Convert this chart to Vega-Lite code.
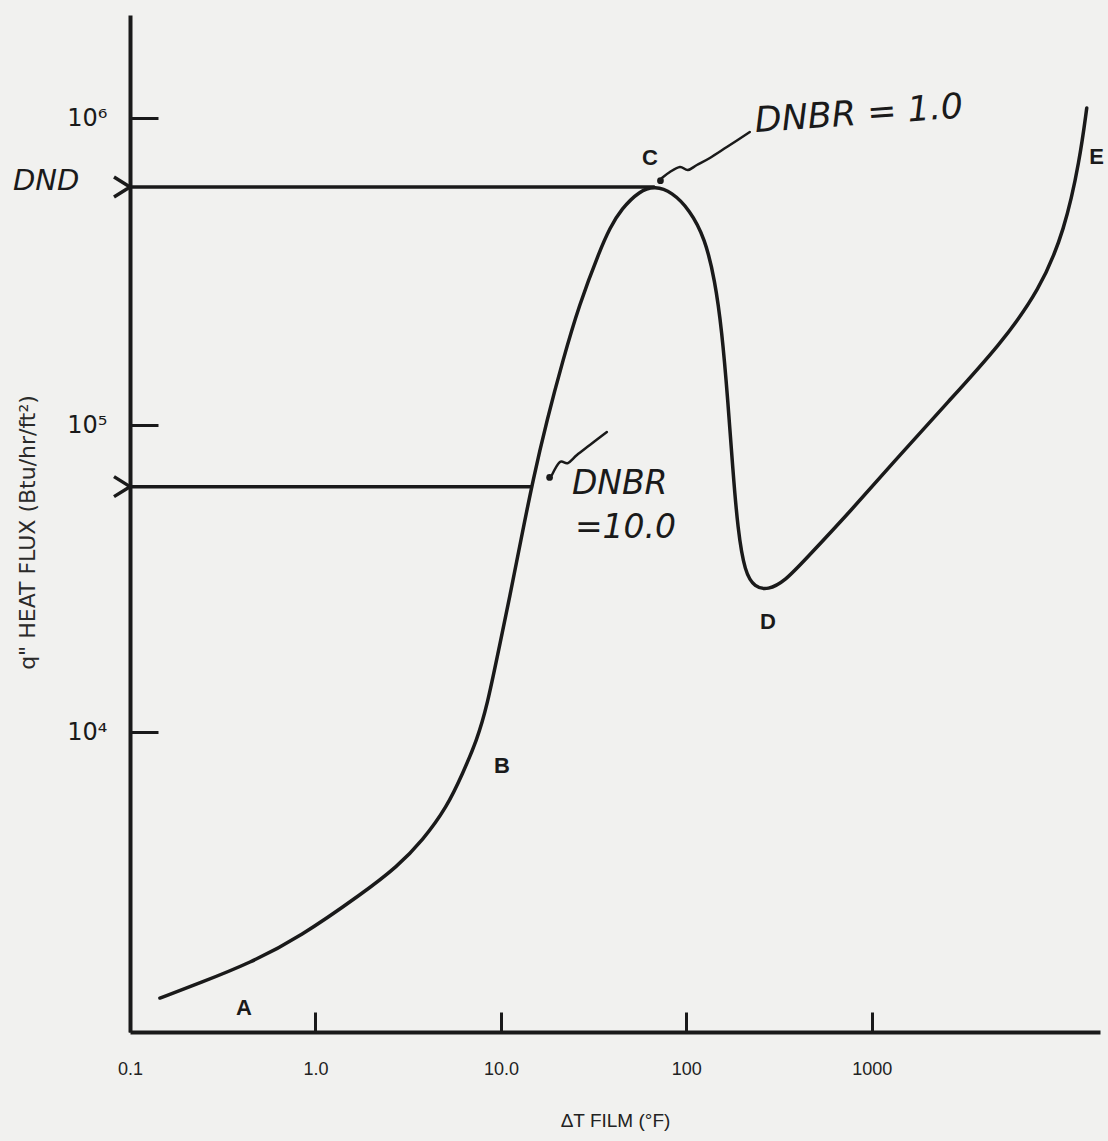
{
  "$schema": "https://vega.github.io/schema/vega-lite/v6.json",
  "width": 970,
  "height": 1017,
  "autosize": {"type": "none"},
  "padding": {"left": 130, "top": 15, "right": 8, "bottom": 109},
  "background": "#f1f1ef",
  "config": {"view": {"stroke": null}},
  "datasets": {
    "curve": [
      {"dt": 0.145, "q": 1360}, {"dt": 0.238, "q": 1522}, {"dt": 0.444, "q": 1768}, {"dt": 0.825, "q": 2150},
      {"dt": 1.803, "q": 2989}, {"dt": 2.751, "q": 3634}, {"dt": 3.798, "q": 4448}, {"dt": 5.115, "q": 5697},
      {"dt": 6.24, "q": 7354}, {"dt": 7.42, "q": 9417}, {"dt": 8.4, "q": 12060}, {"dt": 9.85, "q": 19210},
      {"dt": 11.15, "q": 27500}, {"dt": 12.82, "q": 42220},
      {"dt": 14.88, "q": 66200}, {"dt": 17.7, "q": 103800}, {"dt": 21.6, "q": 162800}, {"dt": 26.4, "q": 246000},
      {"dt": 34.2, "q": 371500}, {"dt": 38.7, "q": 438200}, {"dt": 44.5, "q": 505000}, {"dt": 56.1, "q": 580000},
      {"dt": 67.6, "q": 600000}, {"dt": 83.5, "q": 575000}, {"dt": 104.4, "q": 501600}, {"dt": 125.8, "q": 406600},
      {"dt": 142.5, "q": 296800}, {"dt": 155.3, "q": 203900}, {"dt": 167.4, "q": 120600}, {"dt": 178.1, "q": 71400},
      {"dt": 189.5, "q": 45500}, {"dt": 206.8, "q": 33000}, {"dt": 234, "q": 29600}, {"dt": 275, "q": 29000},
      {"dt": 339.6, "q": 31000}, {"dt": 435.4, "q": 36340}, {"dt": 760.9, "q": 52080}, {"dt": 1416, "q": 79860},
      {"dt": 2633, "q": 120600}, {"dt": 4898, "q": 182200}, {"dt": 8050, "q": 275300}, {"dt": 10975, "q": 431700},
      {"dt": 13220, "q": 729800}, {"dt": 14420, "q": 1078000}
    ],
    "refs": [
      {"name": "DND", "dt": 0.1, "dt2": 67.6, "q": 596000},
      {"name": "DNBR10", "dt": 0.1, "dt2": 14.9, "q": 63000}
    ],
    "arrows": [
      {"arrow": "C", "i": 1, "dt": 73.8, "q": 637800},
      {"arrow": "C", "i": 2, "dt": 81.5, "q": 667000},
      {"arrow": "C", "i": 3, "dt": 92.3, "q": 692500},
      {"arrow": "C", "i": 4, "dt": 101.9, "q": 677000},
      {"arrow": "C", "i": 5, "dt": 113.9, "q": 703000},
      {"arrow": "C", "i": 6, "dt": 133.9, "q": 741000},
      {"arrow": "C", "i": 7, "dt": 165.3, "q": 804500},
      {"arrow": "C", "i": 8, "dt": 219.8, "q": 900400},
      {"arrow": "B10", "i": 1, "dt": 18.84, "q": 68730},
      {"arrow": "B10", "i": 2, "dt": 20.8, "q": 75780},
      {"arrow": "B10", "i": 3, "dt": 22.97, "q": 75200},
      {"arrow": "B10", "i": 4, "dt": 25.7, "q": 79860},
      {"arrow": "B10", "i": 5, "dt": 30.18, "q": 86050},
      {"arrow": "B10", "i": 6, "dt": 37.27, "q": 94900}
    ],
    "tips": [
      {"dt": 72.5, "q": 625000},
      {"dt": 18.3, "q": 67500}
    ],
    "chevrons": [
      {"dt": 0.1, "q": 596000},
      {"dt": 0.1, "q": 63000}
    ],
    "dnd": [
      {"dt": 0.0234, "q": 623600, "text": "DND"}
    ],
    "dnbr1": [
      {"dt": 234, "q": 977500, "text": "DNBR = 1.0"}
    ],
    "dnbr10": [
      {"dt": 24.14, "q": 64250, "text": "DNBR"},
      {"dt": 25.06, "q": 46180, "text": "=10.0"}
    ],
    "points": [
      {"dt": 0.412, "q": 1262, "text": "A"},
      {"dt": 10.13, "q": 7750, "text": "B"},
      {"dt": 63.6, "q": 741000, "text": "C"},
      {"dt": 275, "q": 22800, "text": "D"},
      {"dt": 16300, "q": 746000, "text": "E"}
    ]
  },
  "encoding": {
    "x": {
      "field": "dt", "type": "quantitative",
      "scale": {"type": "log", "domain": [0.1, 17000], "nice": false},
      "axis": {
        "title": "ΔT FILM (°F)",
        "values": [0.1, 1, 10, 100, 1000],
        "labelExpr": "datum.value < 0.5 ? '0.1' : datum.value < 5 ? '1.0' : datum.value < 50 ? '10.0' : datum.value < 500 ? '100' : '1000'",
        "grid": false,
        "domainColor": "#1a1a1a", "domainWidth": 4,
        "tickColor": "#1a1a1a", "tickWidth": 3, "tickSize": -20,
        "labelFont": "Liberation Sans", "labelFontSize": 18, "labelColor": "#222222",
        "labelPadding": 48, "labelFlush": false,
        "titleFont": "Liberation Sans", "titleFontSize": 19, "titleFontWeight": "normal", "titleColor": "#222222",
        "titleY": 88, "titleBaseline": "middle"
      }
    },
    "y": {
      "field": "q", "type": "quantitative",
      "scale": {"type": "log", "domain": [1054, 2166000], "nice": false},
      "axis": {
        "title": "q\" HEAT FLUX (Btu/hr/ft²)",
        "values": [10000, 100000, 1000000],
        "labelExpr": "datum.value < 50000 ? '10⁴' : datum.value < 500000 ? '10⁵' : '10⁶'",
        "grid": false,
        "domainColor": "#1a1a1a", "domainWidth": 4,
        "tickColor": "#1a1a1a", "tickWidth": 3, "tickSize": -28,
        "labelFont": "DejaVu Sans", "labelFontSize": 24, "labelColor": "#1a1a1a",
        "labelPadding": 51, "labelFlush": false,
        "titleFont": "DejaVu Sans", "titleFontSize": 22, "titleFontWeight": "normal", "titleColor": "#2a2a2a",
        "titleX": -103, "titleY": 517, "titleBaseline": "middle", "titleAlign": "center", "titleAngle": 270
      }
    }
  },
  "layer": [
    {
      "data": {"name": "refs"},
      "mark": {"type": "rule", "color": "#1a1a1a", "strokeWidth": 3.5},
      "encoding": {"x2": {"field": "dt2"}}
    },
    {
      "data": {"name": "curve"},
      "mark": {"type": "line", "color": "#1a1a1a", "strokeWidth": 3.5, "interpolate": "basis", "strokeCap": "round"},
      "encoding": {}
    },
    {
      "data": {"name": "arrows"},
      "mark": {"type": "line", "color": "#1a1a1a", "strokeWidth": 2.5, "interpolate": "cardinal", "strokeCap": "round"},
      "encoding": {
        "detail": {"field": "arrow"},
        "order": {"field": "i", "type": "quantitative"}
      }
    },
    {
      "data": {"name": "tips"},
      "mark": {"type": "point", "filled": true, "color": "#1a1a1a", "size": 45, "opacity": 1}
    },
    {
      "data": {"name": "chevrons"},
      "mark": {"type": "point", "shape": "M-1.6,-1L0,0L-1.6,1", "filled": false, "color": "#1a1a1a", "strokeWidth": 3.5, "size": 400, "opacity": 1}
    },
    {
      "data": {"name": "dnd"},
      "mark": {"type": "text", "font": "DejaVu Sans", "fontStyle": "italic", "fontSize": 29, "align": "left", "baseline": "middle", "color": "#1a1a1a"},
      "encoding": {"text": {"field": "text"}}
    },
    {
      "data": {"name": "dnbr1"},
      "mark": {"type": "text", "font": "DejaVu Sans", "fontStyle": "italic", "fontSize": 35, "angle": 356, "align": "left", "baseline": "middle", "color": "#1a1a1a"},
      "encoding": {"text": {"field": "text"}}
    },
    {
      "data": {"name": "dnbr10"},
      "mark": {"type": "text", "font": "DejaVu Sans", "fontStyle": "italic", "fontSize": 33, "align": "left", "baseline": "middle", "color": "#1a1a1a"},
      "encoding": {"text": {"field": "text"}}
    },
    {
      "data": {"name": "points"},
      "mark": {"type": "text", "font": "Liberation Sans", "fontWeight": "bold", "fontSize": 22, "align": "center", "baseline": "middle", "color": "#1a1a1a"},
      "encoding": {"text": {"field": "text"}}
    }
  ]
}
